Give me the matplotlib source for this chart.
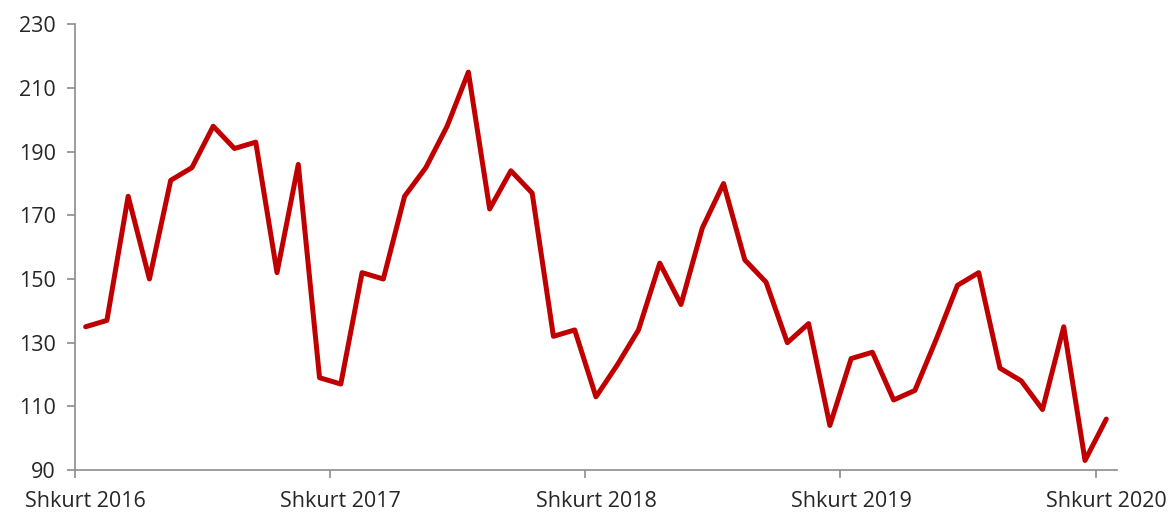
import numpy as np
import matplotlib
matplotlib.use('Agg')
from matplotlib import pyplot as plt

# monthly values, Feb 2016 .. Feb 2020
values = [135, 137, 176, 150, 181, 185, 198, 191, 193, 152, 186, 119,
          117, 152, 150, 176, 185, 198, 215, 172, 184, 177, 132, 134,
          113, 123, 134, 155, 142, 166, 180, 156, 149, 130, 136, 104,
          125, 127, 112, 115, 131, 148, 152, 122, 118, 109, 135, 93,
          106]
year_labels = ['Shkurt 2016', 'Shkurt 2017', 'Shkurt 2018', 'Shkurt 2019', 'Shkurt 2020']
y_ticks = [90, 110, 130, 150, 170, 190, 210, 230]

plt.rcParams['font.family'] = ['Open Sans', 'DejaVu Sans']

fig = plt.figure(figsize=(11.72, 5.14), dpi=100)
ax = fig.add_axes([0.064, 0.0856, 0.889, 0.867])

x = np.arange(len(values))
ax.plot(x, values, color='#C00000', linewidth=3.6, solid_joinstyle='round',
        solid_capstyle='round')

ax.set_xlim(-0.5, len(values) - 0.5)
ax.set_ylim(y_ticks[0], y_ticks[-1])
ax.set_yticks(y_ticks)

# tick marks between categories, labels centred on the category
ax.set_xticks(np.arange(len(year_labels)) * 12 - 0.5)
ax.set_xticklabels([])
ax.set_xticks(np.arange(len(year_labels)) * 12, minor=True)
ax.set_xticklabels(year_labels, minor=True)

for s in ['top', 'right']:
    ax.spines[s].set_visible(False)
for s in ['left', 'bottom']:
    ax.spines[s].set_color('#8c8c8c')
    ax.spines[s].set_linewidth(1.2)

ax.tick_params(axis='both', which='major', direction='out', length=6,
               width=1.2, color='#8c8c8c', labelsize=15.5, labelcolor='#262626')
ax.tick_params(axis='x', which='minor', length=0, labelsize=15.5,
               labelcolor='#262626', pad=15)
ax.tick_params(axis='y', pad=8)

fig.savefig('out.png', dpi=100)
